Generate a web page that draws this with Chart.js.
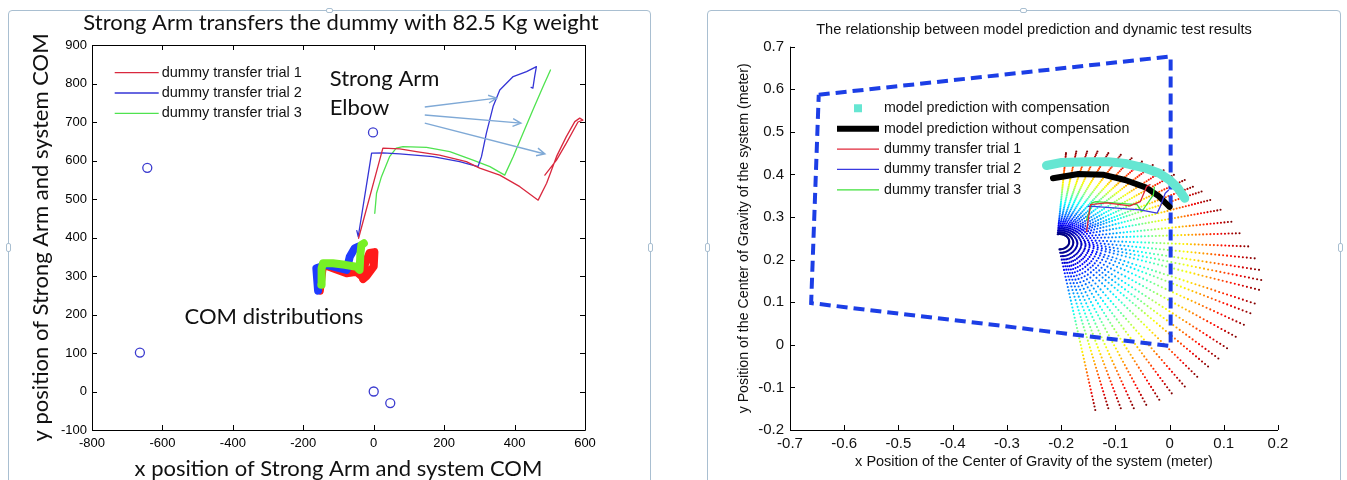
<!DOCTYPE html>
<html>
<head>
<meta charset="utf-8">
<script src="https://cdn.jsdelivr.net/npm/chart.js@4.4.1/dist/chart.umd.min.js"></script>
<style>
  html, body { margin: 0; padding: 0; background: #fff; }
  body { width: 1347px; height: 480px; position: relative; overflow: hidden; }
  .frame { position: absolute; border: 1px solid #a9bfd1; border-radius: 4px; box-sizing: border-box; }
  .nub { position: absolute; border: 1px solid #a9bfd1; background: #fff; box-sizing: border-box; border-radius: 2px; }
  .panel { position: absolute; }
</style>
</head>
<body>
<div class="frame" style="left:8px;top:10px;width:643px;height:480px"></div>
<div class="nub" style="left:326px;top:8px;width:7px;height:5px"></div>
<div class="nub" style="left:6px;top:243px;width:5px;height:9px"></div>
<div class="nub" style="left:648px;top:243px;width:5px;height:9px"></div>
<div class="frame" style="left:707px;top:10px;width:634px;height:480px"></div>
<div class="nub" style="left:1020px;top:8px;width:7px;height:5px"></div>
<div class="nub" style="left:705px;top:243px;width:5px;height:9px"></div>
<div class="nub" style="left:1338px;top:243px;width:5px;height:9px"></div>
<div class="panel" style="left:8px;top:10px;width:642px;height:470px"><canvas id="armChart"></canvas></div>
<div class="panel" style="left:707px;top:10px;width:633px;height:470px"><canvas id="cogChart"></canvas></div>
<script>
'use strict';

// ---- left chart: Strong Arm with the 82.5 Kg dummy ----
const trial1X = [-43, 26, 74, 121, 187, 263, 301, 358, 415, 467, 491, 519, 547, 571, 585, 594, 580, 547, 519, 486];
const trial1Y = [398, 632, 630, 623, 614, 597, 580, 562, 532, 497, 541, 610, 662, 701, 710, 705, 700, 645, 601, 562];
const trial2X = [-48, -44, -6, 26, 74, 168, 244, 296, 306, 320, 339, 358, 396, 434, 462, 457, 452, 447];
const trial2Y = [418, 402, 619, 620, 617, 610, 597, 584, 610, 671, 740, 783, 818, 831, 844, 818, 788, 790];
const trial3X = [3, 8, 22, 45, 64, 83, 150, 216, 282, 330, 372, 396, 424, 452, 481, 502];
const trial3Y = [463, 515, 558, 610, 632, 636, 634, 623, 601, 584, 562, 610, 671, 731, 792, 835];

const comRedX = [-153, -149, -144, -110, -77, -49, -30, -25, -12, 2, 0, -20, -30];
const comRedY = [262, 290, 330, 318, 307, 311, 296, 330, 360, 362, 325, 300, 292];
const comBlueX = [-158, -163, -134, -77, -68, -54, -45];
const comBlueY = [262, 320, 329, 316, 350, 372, 376];
const comGreenX = [-149, -148, -144, -116, -82, -49, -40, -38, -35, -28];
const comGreenY = [277, 320, 333, 333, 329, 324, 316, 355, 381, 385];

const ringX = [-643, -664, -2, 0, 47];
const ringY = [581, 101, 673, 0, -30];

const armTrialNames = ['dummy transfer trial 1', 'dummy transfer trial 2', 'dummy transfer trial 3'];

// ---- right chart: model prediction vs dynamic test ----
const fanCenter = [-0.203, 0.242];      // centre of the small inner arcs
const rimCenter = [-0.135, 0.151];      // centre of the outer rim
const fanInnerRadius = 0.018;
const dotsPerRay = 48;
const rayTipX = [-0.191, -0.172, -0.152, -0.133, -0.113, -0.090, -0.070, -0.051, -0.031, -0.011, 0.008, 0.028, 0.043,
  0.059, 0.075, 0.094, 0.114, 0.129, 0.145, 0.157, 0.165, 0.169, 0.165, 0.157, 0.149, 0.137, 0.122, 0.106,
  0.090, 0.071, 0.051, 0.028, 0.004, -0.019, -0.043, -0.066, -0.090, -0.113, -0.137];
const rayTipY = [0.450, 0.454, 0.454, 0.454, 0.450, 0.446, 0.438, 0.430, 0.422, 0.410, 0.399, 0.387, 0.371,
  0.360, 0.340, 0.317, 0.289, 0.262, 0.231, 0.203, 0.176, 0.152, 0.129, 0.097, 0.074, 0.047, 0.019, -0.008,
  -0.032, -0.051, -0.075, -0.098, -0.114, -0.129, -0.141, -0.149, -0.149, -0.149, -0.153];

const withCompX = [-0.227, -0.199, -0.152, -0.113, -0.082, -0.043, -0.019, 0.000, 0.016, 0.028];
const withCompY = [0.421, 0.428, 0.430, 0.430, 0.426, 0.414, 0.403, 0.387, 0.367, 0.344];
const noCompX = [-0.215, -0.168, -0.121, -0.082, -0.043, -0.019, 0.000];
const noCompY = [0.391, 0.401, 0.399, 0.387, 0.369, 0.348, 0.324];

const test1X = [-0.153, -0.146, -0.116, -0.073, -0.054, -0.042, -0.036];
const test1Y = [0.266, 0.329, 0.333, 0.326, 0.336, 0.372, 0.376];
const test2X = [-0.150, -0.141, -0.054, -0.023, -0.017, -0.008, -0.002];
const test2Y = [0.325, 0.325, 0.317, 0.309, 0.325, 0.356, 0.363];
const test3X = [-0.153, -0.143, -0.136, -0.060, -0.051, -0.030, -0.028];
const test3Y = [0.293, 0.333, 0.336, 0.329, 0.313, 0.352, 0.370];

const boxX = [-0.647, 0.002, 0.002, -0.661, -0.647];
const boxY = [0.587, 0.677, -0.003, 0.098, 0.587];

const cogNames = ['model prediction with compensation', 'model prediction without compensation',
  'dummy transfer trial 1', 'dummy transfer trial 2', 'dummy transfer trial 3'];

// annotation anchors (left chart, data units)
const noteText = ['Strong Arm', 'Elbow', 'COM distributions'];
const noteX = [-125, -125, -537];
const noteY = [812, 736, 193];
const arrowFromX = [145, 145, 145];
const arrowFromY = [739, 718, 697];
const arrowToX = [349, 418, 486];
const arrowToY = [762, 697, 617];

Chart.defaults.font.family = '"Liberation Sans", Arial, sans-serif';
Chart.defaults.color = '#000';

const CALIBRI = 'Lato, "Open Sans", sans-serif';

const pts = (xs, ys) => xs.map((x, i) => ({x, y: ys[i]}));
const tenths = v => (Math.abs(v) < 1e-9 ? '0' : String(Math.round(v * 10) / 10));

function lineSet(label, xs, ys, color, width, extra) {
  return Object.assign({
    label, data: pts(xs, ys), showLine: true, borderColor: color, borderWidth: width,
    pointRadius: 0, fill: false, tension: 0, borderJoinStyle: 'round', borderCapStyle: 'round'
  }, extra || {});
}

function jet(t) {
  const c = v => Math.round(255 * Math.min(1, Math.max(0, v)));
  return 'rgb(' + c(1.5 - Math.abs(4 * t - 3)) + ',' + c(1.5 - Math.abs(4 * t - 2)) + ',' + c(1.5 - Math.abs(4 * t - 1)) + ')';
}

// each ray runs from the inner arc out to its tip on the rim; dots coloured by step
const fanPoints = [];
const fanColors = [];
rayTipX.forEach((tx, k) => {
  const ty = rayTipY[k];
  const ux = tx - rimCenter[0];
  const uy = ty - rimCenter[1];
  const n = Math.hypot(ux, uy);
  const sx = fanCenter[0] + fanInnerRadius * ux / n;
  const sy = fanCenter[1] + fanInnerRadius * uy / n;
  for (let j = 0; j < dotsPerRay; j++) {
    const t = j / (dotsPerRay - 1);
    fanPoints.push({x: sx + t * (tx - sx), y: sy + t * (ty - sy)});
    fanColors.push(jet(t));
  }
});

// matlab style axes: ticks pointing inward, optional full box
const matlabAxes = {
  id: 'matlabAxes',
  afterDraw(chart, args, o) {
    const {ctx, chartArea: {left, right, top, bottom}, scales: {x, y}} = chart;
    ctx.save();
    ctx.strokeStyle = '#000';
    ctx.lineWidth = 1;
    ctx.beginPath();
    x.ticks.forEach(t => {
      const px = Math.round(x.getPixelForValue(t.value)) + 0.5;
      ctx.moveTo(px, bottom); ctx.lineTo(px, bottom - o.len);
      if (o.box) { ctx.moveTo(px, top); ctx.lineTo(px, top + o.len); }
    });
    y.ticks.forEach(t => {
      const py = Math.round(y.getPixelForValue(t.value)) + 0.5;
      ctx.moveTo(left, py); ctx.lineTo(left + o.len, py);
      if (o.box) { ctx.moveTo(right, py); ctx.lineTo(right - o.len, py); }
    });
    if (o.box) {
      ctx.rect(Math.round(left) + 0.5, Math.round(top) + 0.5, Math.round(right - left), Math.round(bottom - top));
    } else {
      ctx.moveTo(Math.round(left) + 0.5, top);
      ctx.lineTo(Math.round(left) + 0.5, Math.round(bottom) + 0.5);
      ctx.lineTo(right, Math.round(bottom) + 0.5);
    }
    ctx.stroke();
    ctx.restore();
  }
};

const legendBox = {
  id: 'legendBox',
  afterDraw(chart, args, o) {
    const {ctx, chartArea} = chart;
    ctx.save();
    ctx.font = o.font;
    ctx.textBaseline = 'middle';
    o.items.forEach((it, i) => {
      const y = chartArea.top + o.top + i * o.step;
      const x0 = chartArea.left + o.left;
      if (it.square) {
        ctx.fillStyle = it.color;
        ctx.fillRect(x0 + o.line / 2 - 4, y - 4, 8, 8);
      } else {
        ctx.strokeStyle = it.color;
        ctx.lineWidth = it.width;
        ctx.beginPath();
        ctx.moveTo(x0, y);
        ctx.lineTo(x0 + o.line, y);
        ctx.stroke();
      }
      ctx.fillStyle = '#111';
      ctx.fillText(it.label, x0 + o.text, y);
    });
    ctx.restore();
  }
};

// heading drawn at a fixed spot so it is not squeezed into the plot width
const panelTitle = {
  id: 'panelTitle',
  afterDraw(chart, args, o) {
    const {ctx} = chart;
    ctx.save();
    ctx.font = o.font;
    ctx.fillStyle = o.color;
    ctx.textAlign = 'center';
    ctx.textBaseline = 'middle';
    ctx.fillText(o.text, o.x, o.y);
    ctx.restore();
  }
};

const armNotes = {
  id: 'armNotes',
  afterDatasetsDraw(chart) {
    const {ctx, scales: {x, y}} = chart;
    ctx.save();
    ctx.strokeStyle = '#7fa9d6';
    ctx.lineWidth = 1.4;
    arrowFromX.forEach((fx, i) => {
      const x1 = x.getPixelForValue(fx), y1 = y.getPixelForValue(arrowFromY[i]);
      const x2 = x.getPixelForValue(arrowToX[i]), y2 = y.getPixelForValue(arrowToY[i]);
      const a = Math.atan2(y2 - y1, x2 - x1);
      ctx.beginPath();
      ctx.moveTo(x1, y1); ctx.lineTo(x2, y2);
      ctx.moveTo(x2 - 9 * Math.cos(a - 0.45), y2 - 9 * Math.sin(a - 0.45));
      ctx.lineTo(x2, y2);
      ctx.lineTo(x2 - 9 * Math.cos(a + 0.45), y2 - 9 * Math.sin(a + 0.45));
      ctx.stroke();
    });
    ctx.fillStyle = '#111';
    ctx.font = '22px ' + CALIBRI;
    ctx.textBaseline = 'middle';
    noteText.forEach((s, i) => ctx.fillText(s, x.getPixelForValue(noteX[i]), y.getPixelForValue(noteY[i])));
    ctx.restore();
  }
};

new Chart(document.getElementById('armChart'), {
  type: 'scatter',
  data: {
    datasets: [
      lineSet(armTrialNames[0], trial1X, trial1Y, '#d9283e', 1.3),
      lineSet(armTrialNames[1], trial2X, trial2Y, '#3434d6', 1.3),
      lineSet(armTrialNames[2], trial3X, trial3Y, '#4fe34f', 1.3),
      lineSet('COM trial 3', comGreenX, comGreenY, '#77f025', 8),
      lineSet('COM trial 2', comBlueX, comBlueY, '#1f3cff', 8),
      lineSet('COM trial 1', comRedX, comRedY, '#ff1a1a', 8),
      {
        label: 'rings', data: pts(ringX, ringY), showLine: false, pointStyle: 'circle', pointRadius: 4.5,
        pointBorderColor: '#3b3bcf', pointBackgroundColor: 'rgba(0,0,0,0)', pointBorderWidth: 1.3
      }
    ]
  },
  options: {
    responsive: true,
    maintainAspectRatio: false,
    animation: false,
    events: [],
    layout: {padding: {left: 0, right: 65, top: 35, bottom: 0}},
    plugins: {
      legend: {display: false},
      tooltip: {enabled: false},
      title: {display: false},
      panelTitle: {
        text: 'Strong Arm transfers the dummy with 82.5 Kg weight', font: '22px ' + CALIBRI,
        color: '#111', x: 333, y: 12.5
      },
      matlabAxes: {box: true, len: 5},
      legendBox: {
        font: '14.5px "Liberation Sans", Arial, sans-serif', left: 22.7, line: 44, text: 47, top: 27.7, step: 20.3,
        items: [
          {label: armTrialNames[0], color: '#d9283e', width: 1.3},
          {label: armTrialNames[1], color: '#3434d6', width: 1.3},
          {label: armTrialNames[2], color: '#4fe34f', width: 1.3}
        ]
      }
    },
    scales: {
      x: {
        type: 'linear', min: -800, max: 600,
        afterFit: s => { s.height = 50; },
        grid: {display: false, drawTicks: false},
        border: {display: false},
        ticks: {stepSize: 200, autoSkip: false, maxRotation: 0, padding: 6, color: '#000', font: {size: 13}},
        title: {
          display: true, text: 'x position of Strong Arm and system COM', color: '#111',
          font: {family: CALIBRI, size: 22, lineHeight: 1}, padding: {top: 0, bottom: 0}
        }
      },
      y: {
        type: 'linear', min: -100, max: 900,
        afterFit: s => { s.width = 84; },
        grid: {display: false, drawTicks: false},
        border: {display: false},
        ticks: {stepSize: 100, autoSkip: false, padding: 5, color: '#000', font: {size: 13}},
        title: {
          display: true, text: 'y position of Strong Arm and system COM', color: '#111',
          font: {family: CALIBRI, size: 22, lineHeight: 1}, padding: {top: 22, bottom: 0}
        }
      }
    }
  },
  plugins: [matlabAxes, legendBox, armNotes, panelTitle]
});

new Chart(document.getElementById('cogChart'), {
  type: 'scatter',
  data: {
    datasets: [
      lineSet(cogNames[2], test1X, test1Y, '#e0283a', 1.3),
      lineSet(cogNames[3], test2X, test2Y, '#3a3ae0', 1.3),
      lineSet(cogNames[4], test3X, test3Y, '#3fe03a', 1.3),
      lineSet(cogNames[1], noCompX, noCompY, '#000000', 6),
      lineSet(cogNames[0], withCompX, withCompY, '#66e6d2', 9),
      lineSet('test boundary', boxX, boxY, '#1c3ee6', 4, {borderDash: [11, 6], borderCapStyle: 'butt', borderJoinStyle: 'miter'}),
      {
        label: 'workspace', data: fanPoints, showLine: false, pointStyle: 'circle', borderWidth: 0,
        pointRadius: 1.05, pointBackgroundColor: fanColors, pointBorderWidth: 0
      }
    ]
  },
  options: {
    responsive: true,
    maintainAspectRatio: false,
    animation: false,
    events: [],
    layout: {padding: {left: 0, right: 62, top: 0, bottom: 0}},
    plugins: {
      legend: {display: false},
      tooltip: {enabled: false},
      title: {
        display: true, fullSize: false, text: 'The relationship between model prediction and dynamic test results',
        font: {size: 14.6, weight: 'normal', lineHeight: 1.1}, color: '#111', padding: {top: 12, bottom: 8.6}
      },
      matlabAxes: {box: false, len: 5},
      legendBox: {
        font: '14.2px "Liberation Sans", Arial, sans-serif', left: 47, line: 42, text: 47, top: 61.6, step: 20.4,
        items: [
          {label: cogNames[0], color: '#66e6d2', square: true},
          {label: cogNames[1], color: '#000000', width: 6},
          {label: cogNames[2], color: '#e0283a', width: 1.2},
          {label: cogNames[3], color: '#3a3ae0', width: 1.2},
          {label: cogNames[4], color: '#3fe03a', width: 1.2}
        ]
      }
    },
    scales: {
      x: {
        type: 'linear', min: -0.7, max: 0.2,
        afterFit: s => { s.height = 50; },
        grid: {display: false, drawTicks: false},
        border: {display: false},
        ticks: {stepSize: 0.1, autoSkip: false, maxRotation: 0, padding: 5, color: '#111', font: {size: 15}, callback: tenths},
        title: {
          display: true, text: 'x Position of the Center of Gravity of the system (meter)', color: '#111',
          font: {size: 14.5, lineHeight: 1}, padding: {top: 0, bottom: 11}
        }
      },
      y: {
        type: 'linear', min: -0.2, max: 0.7,
        afterFit: s => { s.width = 83; },
        grid: {display: false, drawTicks: false},
        border: {display: false},
        ticks: {stepSize: 0.1, autoSkip: false, padding: 6, color: '#111', font: {size: 15}, callback: tenths},
        title: {
          display: true, text: 'y Position of the Center of Gravity of the system (meter)', color: '#111',
          font: {size: 14.2, lineHeight: 1}, padding: {top: 30, bottom: 0}
        }
      }
    }
  },
  plugins: [matlabAxes, legendBox]
});
</script>
</body>
</html>
